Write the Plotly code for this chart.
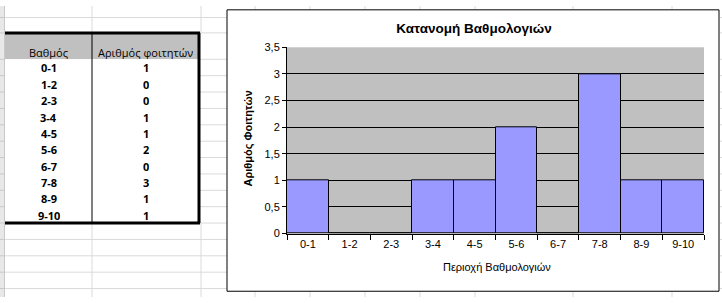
import plotly.graph_objects as go

# ---- data ----
grades = ["0-1", "1-2", "2-3", "3-4", "4-5", "5-6", "6-7", "7-8", "8-9", "9-10"]
students = [1, 0, 0, 1, 1, 2, 0, 3, 1, 1]
header = ["Βαθμός", "Αριθμός φοιτητών"]
title_text = "Κατανομή Βαθμολογιών"
x_title = "Περιοχή Βαθμολογιών"
y_title = "Αριθμός Φοιτητών"
y_ticks = [0, 0.5, 1, 1.5, 2, 2.5, 3, 3.5]
grid_vals = [0.5, 1, 1.5, 2, 2.5, 3]

W, H = 722, 303
def px(x):
    return x / W
def py(y):
    return 1 - y / H

shapes = []
annotations = []

def line(x0, y0, x1, y1, color, width=1):
    shapes.append(dict(type="line", xref="paper", yref="paper",
                       x0=px(x0), y0=py(y0), x1=px(x1), y1=py(y1),
                       line=dict(color=color, width=width), layer="below"))

def rect(x0, y0, x1, y1, fill, color=None, width=0):
    shapes.append(dict(type="rect", xref="paper", yref="paper",
                       x0=px(x0), y0=py(y0), x1=px(x1), y1=py(y1),
                       fillcolor=fill,
                       line=dict(color=color or fill, width=width), layer="below"))

GRID = "#DADADA"
CX0, CY0, CX1, CY1 = 227, 4, 719, 297
TX0, TY0, TX1, TY1 = 5, 28, 199, 226
COLDIV = 92
HEAD_BOTTOM = 55.5
ROW_H = (TY1 - HEAD_BOTTOM) / len(grades)

# spreadsheet row-header strip
rect(0, 0, 4, H, "#E8E8E8")
line(4.5, 0, 4.5, H, "#C8C8C8")

# horizontal spreadsheet gridlines
row_lines = [12, 28] + [HEAD_BOTTOM + ROW_H * k for k in range(15)]
for y in row_lines:
    line(0, y, 4, y, "#C8C8C8")
    if TY0 - 1 <= y <= TY1 + 1:
        line(TX1, y, CX0, y, GRID)
    else:
        line(5, y, CX0, y, GRID)
    line(CX1 + 1, y, W, y, GRID)

# vertical spreadsheet gridlines
for x in [COLDIV, 201]:
    line(x, 0, x, TY0, GRID)
    line(x, TY1, x, H, GRID)
for x in [255, 310, 365, 420, 475, 573, 672]:
    line(x, 0, x, CY0, GRID)
    line(x, CY1, x, H, GRID)

# table
rect(TX0, TY0, TX1, HEAD_BOTTOM, "#C0C0C0")
rect(TX0, HEAD_BOTTOM, TX1, TY1, "#FFFFFF")
line(COLDIV, TY0, COLDIV, TY1, "#000000", 1)
line(TX0, TY0, TX1 + 1, TY0, "#000000", 3)
line(TX1, TY0, TX1, TY1, "#000000", 3)
line(TX0, TY1, TX1 + 1, TY1, "#000000", 3)

col_centers = [(TX0 + COLDIV) / 2, (COLDIV + TX1) / 2]
tfont = dict(family="Open Sans", size=11, color="#000000")
for c, h in enumerate(header):
    annotations.append(dict(xref="paper", yref="paper", x=px(col_centers[c]), y=py(48),
                            text=h, showarrow=False, xanchor="center", yanchor="middle",
                            height=14, font=tfont))
for i, (g, s) in enumerate(zip(grades, students)):
    yc = HEAD_BOTTOM + ROW_H * (i + 0.5)
    annotations.append(dict(xref="paper", yref="paper", x=px(col_centers[0]), y=py(yc),
                            text="<b>%s</b>" % g, showarrow=False, xanchor="center",
                            yanchor="middle", height=14, font=tfont))
    annotations.append(dict(xref="paper", yref="paper", x=px(col_centers[1]), y=py(yc),
                            text="<b>%s</b>" % s, showarrow=False, xanchor="center",
                            yanchor="middle", height=14, font=tfont))

# chart frame (no fill so plot background stays visible)
shapes.append(dict(type="rect", xref="paper", yref="paper",
                   x0=px(CX0), y0=py(CY0), x1=px(CX1), y1=py(CY1),
                   fillcolor="rgba(0,0,0,0)", line=dict(color="#000000", width=1),
                   layer="above"))

cfont = "Liberation Sans"
annotations.append(dict(xref="paper", yref="paper", x=px(497), y=py(272),
                        text=x_title, showarrow=False, xanchor="center", yanchor="middle",
                        font=dict(family=cfont, size=11, color="#000000")))
annotations.append(dict(xref="paper", yref="paper", x=px(249), y=py(138),
                        text="<b>%s</b>" % y_title, showarrow=False, textangle=-90,
                        xanchor="center", yanchor="middle",
                        font=dict(family=cfont, size=11, color="#000000")))

fig = go.Figure(go.Bar(
    x=grades, y=students,
    marker=dict(color="#9999FF", line=dict(color="#000000", width=1)),
))
# invisible trace to activate the grid axis
fig.add_trace(go.Scatter(x=grades, y=students, yaxis="y2", mode="markers",
                         marker=dict(opacity=0, size=1), hoverinfo="skip",
                         showlegend=False))

ydom = [py(237), py(43)]
fig.update_layout(
    width=W, height=H,
    margin=dict(l=0, r=0, t=0, b=0),
    paper_bgcolor="#FFFFFF",
    plot_bgcolor="#C0C0C0",
    separators=",.",
    bargap=0,
    showlegend=False,
    title=dict(text=title_text, x=px(474), y=py(23), xanchor="center", yanchor="middle",
               xref="paper", yref="paper",
               font=dict(family=cfont, size=13.5, color="#000000", weight="bold")),
    xaxis=dict(domain=[px(287), px(704)], type="category", tickson="boundaries",
               range=[-0.5, len(grades) - 0.5],
               ticks="outside", ticklen=5, tickcolor="#000000", tickwidth=1,
               showline=True, linecolor="#000000", linewidth=1, showgrid=False,
               tickfont=dict(family=cfont, size=11, color="#000000")),
    yaxis=dict(domain=ydom, range=[0, 3.5], tickvals=y_ticks,
               ticks="outside", ticklen=4, tickcolor="#000000", tickwidth=1,
               showline=True, linecolor="#000000", linewidth=1,
               showgrid=False, zeroline=False,
               tickfont=dict(family=cfont, size=11, color="#000000")),
    yaxis2=dict(domain=ydom, range=[0, 3.5], overlaying="y", side="left",
                tickvals=grid_vals, showticklabels=False, ticks="",
                showgrid=True, gridcolor="#000000", gridwidth=1, zeroline=False,
                showline=False),
    shapes=shapes,
    annotations=annotations,
)

fig.write_html("out.html")
